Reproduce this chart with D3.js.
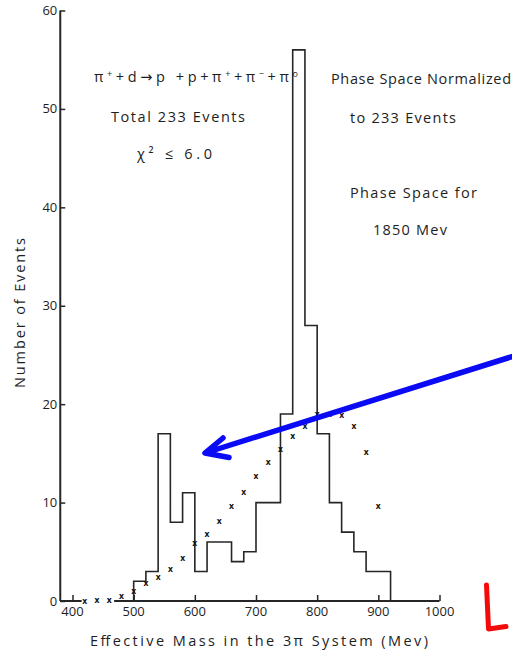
<!DOCTYPE html>
<html>
<head>
<meta charset="utf-8">
<script src="https://cdn.jsdelivr.net/npm/d3@7"></script>
<style>
  html, body { margin: 0; padding: 0; background: #fff; }
  svg { display: block; }
  text { font-family: "Open Sans", "DejaVu Sans", sans-serif; fill: #1e1e1e; }
</style>
</head>
<body>
<svg id="chart" width="512" height="652"></svg>
<script>
// Observed 3π effective-mass histogram (20 MeV bins, lower edge in MeV)
const binStart = [500, 520, 540, 560, 580, 600, 620, 640, 660, 680, 700, 720, 740, 760, 780, 800, 820, 840, 860, 880, 900];
const binCount = [2, 3, 17, 8, 11, 3, 6, 6, 4, 5, 10, 10, 19, 56, 28, 17, 10, 7, 5, 3, 3];
const binWidth = 20;

// Phase-space curve, normalized to 233 events (x markers)
const psMass  = [420, 440, 460, 480, 500, 520, 540, 560, 580, 600, 620, 640, 660, 680, 700, 720, 740, 760, 780, 800, 820, 840, 860, 880, 900];
const psValue = [0.0, 0.05, 0.1, 0.45, 1.0, 1.75, 2.4, 3.2, 4.35, 5.8, 6.8, 8.1, 9.6, 11.0, 12.6, 14.1, 15.4, 16.7, 17.7, 18.9, 18.9, 18.8, 17.7, 15.1, 9.6];

const xTicks = [400, 500, 600, 700, 800, 900, 1000];
const yTicks = [0, 10, 20, 30, 40, 50, 60];

const svg = d3.select("#chart");

const x = d3.scaleLinear().domain([400, 1000]).range([72.5, 439.5]);
const y = d3.scaleLinear().domain([0, 60]).range([601, 10.5]);
const xLeft = 380;

const ink = "#262626";

// ---- axes ----
const g = svg.append("g");

// y axis (ticks point inward)
const yAxis = d3.axisRight(y).tickValues(yTicks).tickSize(5).tickFormat("");
const yg = g.append("g").attr("transform", `translate(${x(xLeft)},0)`).call(yAxis);
yg.select(".domain").attr("d", `M0,${y(0)}V${y(60)}`).attr("stroke", ink).attr("stroke-width", 2);
yg.selectAll(".tick line").attr("stroke", ink).attr("stroke-width", 1.5);

yTicks.forEach(v => {
  g.append("text")
    .attr("x", x(xLeft) - 3).attr("y", y(v) + 4.5)
    .attr("text-anchor", "end").attr("font-size", 13)
    .text(v);
});

// x axis: baseline broken where the zero-level markers sit
const baseSegs = [[xLeft, 415], [468, 1000]];
baseSegs.forEach(s => {
  g.append("line")
    .attr("x1", x(s[0])).attr("x2", x(s[1]))
    .attr("y1", y(0)).attr("y2", y(0))
    .attr("stroke", ink).attr("stroke-width", 2);
});
const xAxis = d3.axisTop(x).tickValues(xTicks).tickSize(6).tickFormat("");
const xg = g.append("g").attr("transform", `translate(0,${y(0)})`).call(xAxis);
xg.select(".domain").remove();
xg.selectAll(".tick line").attr("stroke", ink).attr("stroke-width", 1.5);

xTicks.forEach(v => {
  g.append("text")
    .attr("x", x(v)).attr("y", 616)
    .attr("text-anchor", "middle").attr("font-size", 13)
    .text(v);
});

// axis titles
g.append("text")
  .attr("x", 90).attr("y", 646)
  .attr("font-size", 14.5)
  .attr("textLength", 338).attr("lengthAdjust", "spacing")
  .text("Effective Mass in the 3π System (Mev)");

g.append("text")
  .attr("transform", "translate(25,313) rotate(-90)")
  .attr("text-anchor", "middle")
  .attr("font-size", 14.5)
  .attr("textLength", 150).attr("lengthAdjust", "spacing")
  .text("Number of Events");

// ---- histogram outline ----
const pts = [[binStart[0], 0]];
binStart.forEach((b, i) => {
  pts.push([b, binCount[i]]);
  pts.push([b + binWidth, binCount[i]]);
});
pts.push([binStart[binStart.length - 1] + binWidth, 0]);

const line = d3.line().x(d => x(d[0])).y(d => y(d[1]));
svg.append("path")
  .attr("d", line(pts))
  .attr("fill", "none")
  .attr("stroke", ink)
  .attr("stroke-width", 1.6);

// ---- phase-space markers ----
svg.append("g").selectAll("text")
  .data(psMass.map((m, i) => [m, psValue[i]]))
  .join("text")
  .attr("x", d => x(d[0]))
  .attr("y", d => y(d[1]) + 2.5)
  .attr("text-anchor", "middle")
  .attr("font-size", 8.5)
  .attr("font-weight", "bold")
  .style("fill", "#111")
  .text("x");

// ---- annotation texts ----
// reaction line with raised charge superscripts
const reaction = [
  ["π", 0], ["+", 1], ["+d→p +p+π", 0], ["+", 1], ["+π", 0], ["−", 1], ["+π", 0], ["o", 1]
];
const rx = svg.append("text")
  .attr("x", 94).attr("y", 82)
  .attr("font-size", 14.5)
  .attr("textLength", 204).attr("lengthAdjust", "spacing");
reaction.forEach(([s, sup]) => {
  const t = rx.append("tspan").text(s);
  if (sup) t.attr("baseline-shift", "55%").attr("font-size", 9);
  else t.attr("baseline-shift", "0");
});

const notes = [
  { t: "Total  233  Events", x: 111, y: 122, w: 134 },
  { t: "χ²  ≤  6.0", x: 137, y: 159, w: 75 },
  { t: "Phase Space Normalized", x: 331, y: 84, w: 180 },
  { t: "to 233 Events", x: 350, y: 123, w: 106 },
  { t: "Phase Space for", x: 350, y: 198, w: 127 },
  { t: "1850 Mev", x: 373, y: 235, w: 74 }
];
notes.forEach(n => {
  svg.append("text")
    .attr("x", n.x).attr("y", n.y)
    .attr("font-size", 14.5)
    .attr("textLength", n.w).attr("lengthAdjust", "spacing")
    .text(n.t);
});

// ---- hand-drawn highlights ----
const arrowTip = [205, 453];
svg.append("path")
  .attr("d", `M514,356 L${arrowTip[0]},${arrowTip[1]} M223,438 L${arrowTip[0]},${arrowTip[1]} L229,457.5`)
  .attr("fill", "none")
  .attr("stroke", "#0a0af5")
  .attr("stroke-width", 5.5)
  .attr("stroke-linecap", "round")
  .attr("stroke-linejoin", "round");

svg.append("path")
  .attr("d", "M486.5,585 L488.5,629 L506,626.5")
  .attr("fill", "none")
  .attr("stroke", "#f50a0a")
  .attr("stroke-width", 5)
  .attr("stroke-linecap", "round")
  .attr("stroke-linejoin", "round");
</script>
</body>
</html>
